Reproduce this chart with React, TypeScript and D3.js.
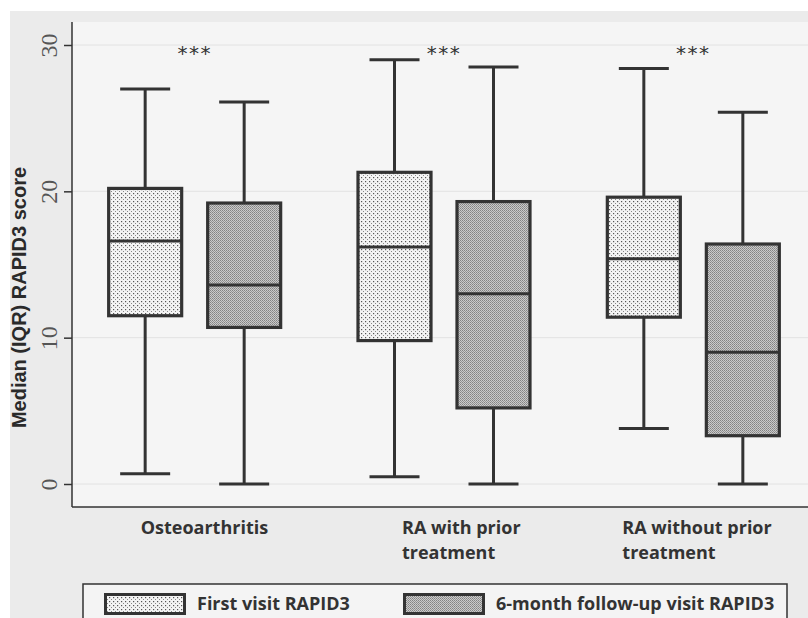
import React, { useEffect, useRef } from 'react';
import * as d3 from 'd3';

// categories
const groups = ['Osteoarthritis', 'RA with prior treatment', 'RA without prior treatment'];
const groupLabelLines = [['Osteoarthritis'], ['RA with prior', 'treatment'], ['RA without prior', 'treatment']];
const series = ['First visit RAPID3', '6-month follow-up visit RAPID3'];

// first visit RAPID3 (whisker low, Q1, median, Q3, whisker high)
const firstMin = [0.7, 0.5, 3.8];
const firstQ1 = [11.5, 9.8, 11.4];
const firstMedian = [16.6, 16.2, 15.4];
const firstQ3 = [20.2, 21.3, 19.6];
const firstMax = [27.0, 29.0, 28.4];

// 6-month follow-up RAPID3
const followMin = [0.0, 0.0, 0.0];
const followQ1 = [10.7, 5.2, 3.3];
const followMedian = [13.6, 13.0, 9.0];
const followQ3 = [19.2, 19.3, 16.4];
const followMax = [26.1, 28.5, 25.4];

const yTicks = [0, 10, 20, 30];
const significance = ['***', '***', '***'];

const App = () => {
  const chartRef = useRef<SVGSVGElement>(null);

  useEffect(() => {
    const svg = d3.select(chartRef.current);
    svg.selectAll('*').remove();

    const W = 808;
    const H = 618;
    const plot = { left: 72, right: 808, top: 22, bottom: 507 };

    const defs = svg.append('defs');
    // dotted fill for first visit
    const p1 = defs.append('pattern')
      .attr('id', 'dots')
      .attr('patternUnits', 'userSpaceOnUse')
      .attr('width', 4).attr('height', 4);
    p1.append('rect').attr('width', 4).attr('height', 4).attr('fill', '#f4f4f4');
    p1.append('rect').attr('x', 1).attr('y', 1).attr('width', 1.2).attr('height', 1.2).attr('fill', '#555');
    p1.append('rect').attr('x', 3).attr('y', 3).attr('width', 1.0).attr('height', 1.0).attr('fill', '#888');

    // fine grey checker for follow-up
    const p2 = defs.append('pattern')
      .attr('id', 'checker')
      .attr('patternUnits', 'userSpaceOnUse')
      .attr('width', 2).attr('height', 2);
    p2.append('rect').attr('width', 2).attr('height', 2).attr('fill', '#cacaca');
    p2.append('rect').attr('width', 1).attr('height', 1).attr('fill', '#838383');
    p2.append('rect').attr('x', 1).attr('y', 1).attr('width', 1).attr('height', 1).attr('fill', '#959595');

    // page background (scanned look)
    svg.append('rect').attr('width', W).attr('height', H).attr('fill', '#ffffff');
    svg.append('rect').attr('x', 10).attr('y', 11).attr('width', W - 10).attr('height', H - 11).attr('fill', '#ebebeb');
    svg.append('rect')
      .attr('x', plot.left).attr('y', plot.top)
      .attr('width', plot.right - plot.left).attr('height', plot.bottom - plot.top)
      .attr('fill', '#f5f5f5');

    // scales
    const x = d3.scaleBand().domain(groups).range([70, 818]).padding(0);
    const xs = d3.scalePoint().domain(series).range([-49.5, 49.5]);
    const y = d3.scaleLinear().domain([0, 30]).range([484, 45]);

    const boxW = 73;
    const capW = 50;
    const dark = '#333';

    // faint grid
    svg.append('g').selectAll('line')
      .data(yTicks)
      .enter().append('line')
      .attr('x1', plot.left).attr('x2', plot.right)
      .attr('y1', d => y(d)).attr('y2', d => y(d))
      .attr('stroke', '#e2e2e2').attr('stroke-width', 1);

    // axes
    const yAxis = svg.append('g')
      .attr('transform', `translate(${plot.left},0)`)
      .call(d3.axisLeft(y).tickValues(yTicks).tickSize(8).tickFormat(d3.format('d')));
    yAxis.select('.domain').remove();
    yAxis.selectAll('.tick line').attr('stroke', dark).attr('stroke-width', 1.5);
    yAxis.selectAll('.tick text')
      .attr('x', null).attr('dy', '0.35em')
      .attr('transform', 'translate(-23,0) rotate(-90)')
      .attr('text-anchor', 'middle')
      .style('font-family', '"Liberation Serif", serif')
      .style('font-size', '24px')
      .attr('fill', '#555');

    svg.append('line')
      .attr('x1', plot.left).attr('x2', plot.left)
      .attr('y1', plot.top).attr('y2', plot.bottom)
      .attr('stroke', dark).attr('stroke-width', 1.5);
    svg.append('line')
      .attr('x1', plot.left).attr('x2', plot.right)
      .attr('y1', plot.bottom).attr('y2', plot.bottom)
      .attr('stroke', dark).attr('stroke-width', 1.5);

    // y title
    svg.append('text')
      .attr('transform', `translate(26,${(160 + 435) / 2}) rotate(-90)`)
      .attr('text-anchor', 'middle')
      .style('font-family', '"Liberation Sans", Arial, sans-serif')
      .style('font-weight', 'bold')
      .style('font-size', '20px')
      .attr('fill', '#2a2a2a')
      .text('Median (IQR) RAPID3 score');

    // boxes
    const stats = [
      { s: series[0], min: firstMin, q1: firstQ1, med: firstMedian, q3: firstQ3, max: firstMax, fill: 'url(#dots)' },
      { s: series[1], min: followMin, q1: followQ1, med: followMedian, q3: followQ3, max: followMax, fill: 'url(#checker)' },
    ];

    const boxes = svg.append('g');
    stats.forEach(st => {
      groups.forEach((g, i) => {
        const cx = (x(g) as number) + x.bandwidth() / 2 + (xs(st.s) as number);
        const gEl = boxes.append('g');
        // whiskers
        gEl.append('line')
          .attr('x1', cx).attr('x2', cx)
          .attr('y1', y(st.max[i])).attr('y2', y(st.q3[i]))
          .attr('stroke', dark).attr('stroke-width', 3);
        gEl.append('line')
          .attr('x1', cx).attr('x2', cx)
          .attr('y1', y(st.q1[i])).attr('y2', y(st.min[i]))
          .attr('stroke', dark).attr('stroke-width', 3);
        gEl.append('line')
          .attr('x1', cx - capW / 2).attr('x2', cx + capW / 2)
          .attr('y1', y(st.max[i])).attr('y2', y(st.max[i]))
          .attr('stroke', dark).attr('stroke-width', 3);
        gEl.append('line')
          .attr('x1', cx - capW / 2).attr('x2', cx + capW / 2)
          .attr('y1', y(st.min[i])).attr('y2', y(st.min[i]))
          .attr('stroke', dark).attr('stroke-width', 3);
        // box
        gEl.append('rect')
          .attr('x', cx - boxW / 2).attr('y', y(st.q3[i]))
          .attr('width', boxW).attr('height', y(st.q1[i]) - y(st.q3[i]))
          .attr('fill', st.fill)
          .attr('stroke', dark).attr('stroke-width', 3.2);
        gEl.append('line')
          .attr('x1', cx - boxW / 2).attr('x2', cx + boxW / 2)
          .attr('y1', y(st.med[i])).attr('y2', y(st.med[i]))
          .attr('stroke', dark).attr('stroke-width', 3);
      });
    });

    // significance stars
    svg.append('g').selectAll('text')
      .data(groups)
      .enter().append('text')
      .attr('x', d => (x(d) as number) + x.bandwidth() / 2)
      .attr('y', y(30) + 15)
      .attr('text-anchor', 'middle')
      .style('font-family', '"DejaVu Sans", sans-serif')
      .style('font-size', '20px')
      .style('letter-spacing', '1.5px')
      .attr('fill', '#333')
      .text((d, i) => significance[i]);

    // category labels (left aligned, two lines)
    const labelOffsets = [-54, -42, -71];
    const labels = svg.append('g');
    groups.forEach((g, i) => {
      const t = labels.append('text')
        .attr('x', (x(g) as number) + x.bandwidth() / 2 + labelOffsets[i])
        .attr('y', 534)
        .style('font-family', '"Open Sans", sans-serif')
        .style('font-weight', 'bold')
        .style('font-size', '18px')
        .attr('fill', '#333');
      groupLabelLines[i].forEach((line, j) => {
        t.append('tspan')
          .attr('x', (x(g) as number) + x.bandwidth() / 2 + labelOffsets[i])
          .attr('dy', j === 0 ? 0 : 25)
          .text(line);
      });
    });

    // legend
    const legend = svg.append('g');
    legend.append('rect')
      .attr('x', 83).attr('y', 584)
      .attr('width', 787 - 83).attr('height', 60)
      .attr('fill', '#f4f4f4')
      .attr('stroke', dark).attr('stroke-width', 1.5);
    const legendX = [104, 403];
    stats.forEach((st, i) => {
      legend.append('rect')
        .attr('x', legendX[i] + 1.5).attr('y', 594.5)
        .attr('width', 79).attr('height', 19)
        .attr('fill', st.fill)
        .attr('stroke', dark).attr('stroke-width', 3);
      legend.append('text')
        .attr('x', legendX[i] + 93)
        .attr('y', 610)
        .style('font-family', '"Open Sans", sans-serif')
        .style('font-weight', 'bold')
        .style('font-size', '18px')
        .attr('fill', '#333')
        .text(st.s);
    });
  }, []);

  return (
    <svg
      ref={chartRef}
      width={808}
      height={618}
      style={{ position: 'absolute', left: 0, top: 0, display: 'block' }}
    />
  );
};

export default App;
